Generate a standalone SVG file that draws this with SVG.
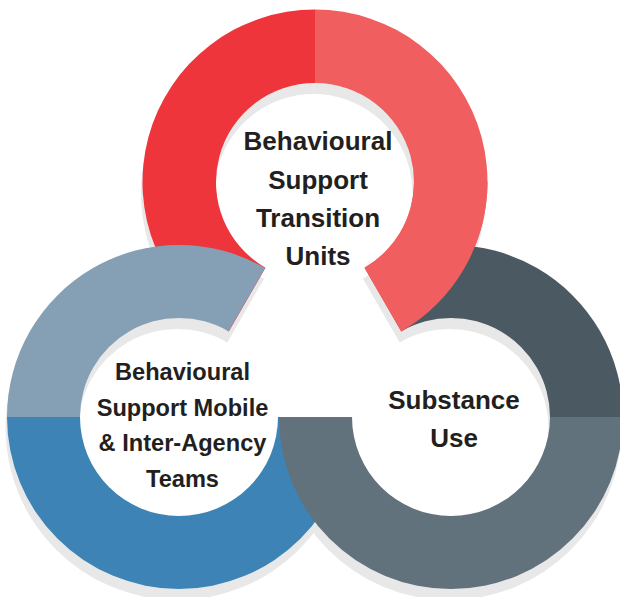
<svg xmlns="http://www.w3.org/2000/svg" width="620" height="597" viewBox="0 0 620 597">
<defs>
<style>
.shadow{fill:#E8E8E9}
.lbl{font-family:"Liberation Sans",Arial,sans-serif;font-weight:bold;fill:#231F20;text-anchor:middle}
.big{font-size:26px}
.small{font-size:23.6px}
</style>
<path id="redL" d="M 228.75 331.39 A 172.5 172.5 0 0 1 315 9.5 L 315 83 A 99 99 0 0 0 265.5 267.74 Z"/>
<path id="redR" d="M 315 9.5 A 172.5 172.5 0 0 1 401.25 331.39 L 364.5 267.74 A 99 99 0 0 0 315 83 Z"/>
<path id="redEnd" d="M 487.5 182 A 172.5 172.5 0 0 1 401.25 331.39 L 364.5 267.74 A 99 99 0 0 0 414 182 Z"/>
<path id="blueB" d="M 351 417 A 172 172 0 0 1 7 417 L 80 417 A 99 99 0 0 0 278 417 Z"/>
<path id="blueT" d="M 7 417 A 172 172 0 0 1 265 268.04 L 228.5 331.26 A 99 99 0 0 0 80 417 Z"/>
<path id="darkT" d="M 365 268.04 A 172 172 0 0 1 623 417 L 550 417 A 99 99 0 0 0 401.5 331.26 Z"/>
<path id="darkB" d="M 623 417 A 172 172 0 0 1 279 417 L 352 417 A 99 99 0 0 0 550 417 Z"/>
</defs>
<rect width="620" height="597" fill="#FFFFFF"/>
<g id="shadows" class="shadow" transform="translate(-1.5,11)">
<use href="#redL"/><use href="#redR"/>
<use href="#blueB"/><use href="#blueT"/>
<use href="#darkT"/><use href="#darkB"/>
</g>
<g id="connectors"/>
<g id="node-transition-units">
<use href="#redL" fill="#EE353B"/>
<use href="#redR" fill="#F05E5F"/>
<text class="lbl big" x="318" y="150">Behavioural</text>
<text class="lbl big" x="318" y="188.5">Support</text>
<text class="lbl big" x="318" y="227">Transition</text>
<text class="lbl big" x="318" y="265">Units</text>
</g>
<g id="node-mobile-teams">
<use href="#blueT" fill="#85A0B5"/>
<use href="#blueB" fill="#3D83B6"/>
<text class="lbl small" x="182.5" y="380">Behavioural</text>
<text class="lbl small" x="182.5" y="415.5">Support Mobile</text>
<text class="lbl small" x="182.5" y="451">&amp; Inter-Agency</text>
<text class="lbl small" x="182.5" y="486.5">Teams</text>
</g>
<g id="node-substance-use">
<use href="#darkT" fill="#4B5963"/>
<use href="#darkB" fill="#62727D"/>
<text class="lbl big" x="454" y="409">Substance</text>
<text class="lbl big" x="454" y="447">Use</text>
</g>
<g id="node-transition-units-overlap">
<use href="#redEnd" fill="#F05E5F"/>
</g>
</svg>
